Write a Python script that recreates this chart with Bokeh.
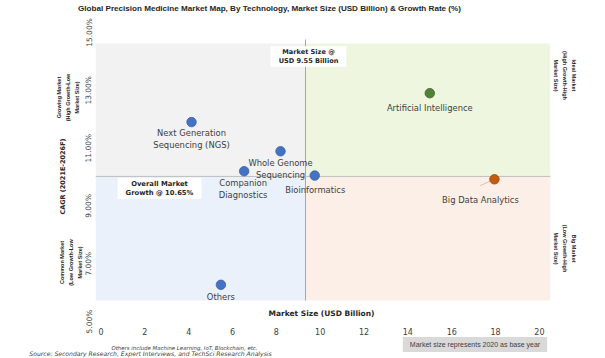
import numpy as np
from bokeh.plotting import figure
from bokeh.models import Label, Range1d, FixedTicker, PrintfTickFormatter, ColumnDataSource
from bokeh.core.properties import value
from bokeh.embed import file_html
from bokeh.resources import INLINE

# ---------------- data ----------------
technologies = ["Next Generation\nSequencing (NGS)", "Whole Genome\nSequencing", "Companion\nDiagnostics",
                "Bioinformatics", "Artificial Intelligence", "Big Data Analytics", "Others"]
market_size = [4.13, 8.19, 6.53, 9.75, 15.0, 17.95, 5.47]          # USD Billion
cagr = [11.90, 10.89, 10.20, 10.05, 12.90, 9.92, 6.27]             # %
point_colors = ["#4472C4", "#4472C4", "#4472C4", "#4472C4", "#548235", "#C55A11", "#4472C4"]
point_edges = ["#3A62A8", "#3A62A8", "#3A62A8", "#3A62A8", "#3F6427", "#A04810", "#3A62A8"]
x_ticks = [0, 2, 4, 6, 8, 10, 12, 14, 16, 18, 20]
y_ticks = [5, 7, 9, 11, 13, 15]
market_size_divider = 9.33
growth_divider = 10.02

# ---------------- layout helpers (reference pixel -> data) ----------------
def rx(px):
    return (px - 100.5) / 21.92

def ry(py):
    return 15 - (py - 32) / 28.9

p = figure(width=605, height=358, x_range=Range1d(rx(95), rx(550)), y_range=Range1d(5, 15),
           output_backend="svg", toolbar_location=None,
           min_border_left=95, min_border_right=55, min_border_top=32, min_border_bottom=37)
p.outline_line_color = None
p.grid.visible = False
p.background_fill_color = "white"
p.border_fill_color = "white"

for ax in (p.xaxis, p.yaxis):
    ax.axis_line_color = None
    ax.major_tick_line_color = None
    ax.minor_tick_line_color = None
    ax.major_label_text_color = "#404040"
    ax.major_label_text_font = "DejaVu Sans"

p.xaxis.ticker = FixedTicker(ticks=x_ticks)
p.xaxis.major_label_text_font_size = "8px"
p.xaxis.major_label_standoff = 0
p.yaxis.ticker = FixedTicker(ticks=y_ticks)
p.yaxis.formatter = PrintfTickFormatter(format="%.2f%%")
p.yaxis.major_label_orientation = "vertical"
p.yaxis.major_label_text_font_size = "7.5px"
p.yaxis.major_label_standoff = -4

# quadrants
x0, x1 = rx(95), rx(550)
y0, y1 = ry(300), ry(43)
p.quad(left=[x0, market_size_divider, x0, market_size_divider],
       right=[market_size_divider, x1, market_size_divider, x1],
       bottom=[growth_divider, growth_divider, y0, y0],
       top=[y1, y1, growth_divider, growth_divider],
       fill_color=["#F2F2F2", "#EEF6DF", "#EAF1FA", "#FCEFE7"], line_color=None)
p.segment(x0=[market_size_divider], y0=[y0], x1=[market_size_divider], y1=[ry(39)],
          line_color="#A6A6A6", line_width=1)
p.segment(x0=[x0], y0=[growth_divider], x1=[x1], y1=[growth_divider],
          line_color="#BFBFBF", line_width=1)

src = ColumnDataSource(dict(x=market_size, y=cagr, c=point_colors, e=point_edges, t=technologies,
                            dx=[0, 0, -1, 0.5, 0, -14, 0], dy=[17, 17.5, 18, 14, 15, 21, 12]))
p.segment(x0=[market_size[5]], y0=[cagr[5]], x1=[market_size[5] - 0.65], y1=[cagr[5] - 0.22],
          line_color="#D9C0B0", line_width=1)
p.scatter("x", "y", source=src, size=9.5, fill_color="c", line_color="e", line_width=0.8)
p.text("x", "y", text="t", source=src, x_offset="dx", y_offset="dy",
       text_align="center", text_baseline="middle", text_font=value("DejaVu Sans"),
       text_font_size="8.4px", text_color="#404040", text_line_height=1.2)

def lab(x, y, text, size, style="normal", color="#262626", align="center", font="DejaVu Sans",
        lh=1.2, side=None, **kw):
    if side is None:
        p.add_layout(Label(x=rx(x), y=ry(y), text=text, text_font=font, text_font_size=size,
                           text_font_style=style, text_color=color, text_align=align,
                           text_baseline="middle", text_line_height=lh, **kw))
    else:
        p.add_layout(Label(x=x, y=y, x_units="canvas", y_units="canvas", text=text, text_font=font,
                           text_font_size=size, text_font_style=style, text_color=color,
                           text_align=align, text_baseline="middle", text_line_height=lh, **kw), side)

# inside the frame
lab(308, 56, "Market Size @\nUSD 9.55 Billion", "6.6px", "bold", lh=1.05,
    background_fill_color="white", padding=(8, 2))
lab(159, 188, "Overall Market\nGrowth @ 10.65%", "6.8px", "bold", lh=1.1,
    background_fill_color="white", padding=(8, 2))
lab(321, 313, "Market Size (USD Billion)", "7.5px", "bold")

# outside the frame (canvas coordinates)
lab(269, 8, "Global Precision Medicine Market Map, By Technology, Market Size (USD Billion) & Growth Rate (%)",
    "8.1px", "bold", font="Liberation Sans", side="above")
lab(474.5, 344, "Market size represents 2020 as base year", "7px", color="#404040",
    font="Liberation Sans", background_fill_color="#D9D9D9", padding=(7, 4), side="above")
lab(184, 347.7, "Others include Machine Learning, IoT, Blockchain, etc.", "5.4px", "italic",
    color="#404040", side="below")
lab(151, 353.3, "Source:  Secondary Research, Expert Interviews, and TechSci Research Analysis", "6.1px",
    "italic", color="#404040", side="below")

lab(62, 176, "CAGR (2021E-2026F)", "6.5px", "bold", side="left", angle=np.pi / 2)
lab(67, 97, "Growing Market\n(High Growth-Low\nMarket Size)", "5.5px", "bold", font="Liberation Sans",
    lh=1.5, side="left", angle=np.pi / 2)
lab(70, 262, "Common Market\n(Low Growth-Low\nMarket Size)", "5.5px", "bold", font="Liberation Sans",
    lh=1.5, side="left", angle=np.pi / 2)
lab(564, 75, "Ideal Market\n(High Growth-High\nMarket Size)", "5.5px", "bold", font="Liberation Sans",
    lh=1.5, side="right", angle=-np.pi / 2)
lab(564, 248, "Big Market\n(Low Growth-High\nMarket Size)", "5.5px", "bold", font="Liberation Sans",
    lh=1.5, side="right", angle=-np.pi / 2)

open("out.html", "w").write(file_html(p, INLINE))
